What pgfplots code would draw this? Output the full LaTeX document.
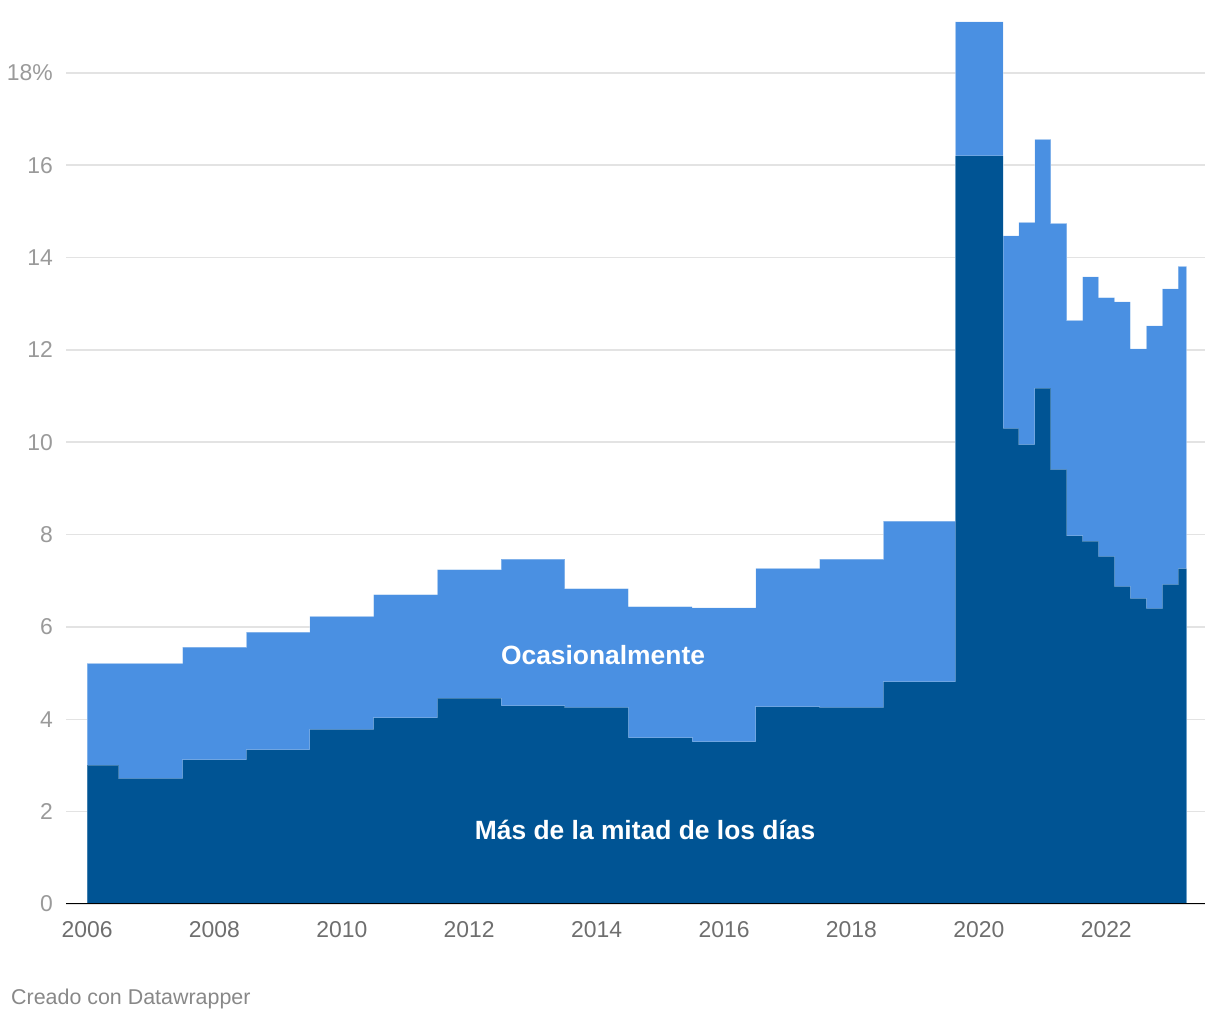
\documentclass[border=0pt]{standalone}
\usepackage{pgfplots}
\pgfplotsset{compat=1.18}
\usepackage{fontspec}
\setmainfont{Liberation Sans}
\definecolor{dark}{HTML}{005494}
\definecolor{light}{HTML}{4A90E2}
\definecolor{gridc}{HTML}{E3E3E3}
\definecolor{ylab}{HTML}{9A9A9A}
\definecolor{xlab}{HTML}{6E6E6E}
\definecolor{foot}{HTML}{888888}

% left edge of each step, share in %: total (both answers) and "más de la mitad de los días"
\pgfplotstableread{
x        total  mitad
2006.00  5.21   3.01
2006.50  5.21   2.72
2007.50  5.56   3.12
2008.50  5.89   3.34
2009.50  6.23   3.78
2010.50  6.70   4.03
2011.50  7.24   4.46
2012.50  7.47   4.29
2013.50  6.83   4.26
2014.50  6.44   3.60
2015.50  6.41   3.51
2016.50  7.27   4.27
2017.50  7.47   4.26
2018.50  8.29   4.81
2019.63  19.10  16.20
2020.38  14.47  10.30
2020.63  14.76  9.95
2020.88  16.56  11.17
2021.13  14.74  9.41
2021.38  12.64  7.97
2021.63  13.58  7.86
2021.88  13.13  7.53
2022.13  13.04  6.88
2022.38  12.02  6.62
2022.63  12.52  6.40
2022.88  13.32  6.92
2023.13  13.81  7.26
2023.26  13.81  7.26
}\datos

\begin{document}
\begin{tikzpicture}[x=1bp,y=1bp]
\useasboundingbox (-66,-116) rectangle (1154,904);
\begin{axis}[
  at={(0,0)}, anchor=south west,
  scale only axis, width=1139bp, height=882bp,
  xmin=2005.67, xmax=2023.55, ymin=0, ymax=19.1,
  axis line style={draw=none},
  tick style={draw=none},
  xtick={2006,2008,...,2022},
  ytick={0,2,...,18},
  yticklabels={0,2,4,6,8,10,12,14,16,18\%},
  x tick label style={/pgf/number format/1000 sep={}},
  xticklabel style={anchor=base, inner sep=0pt, yshift=-34bp, text=xlab,
    font=\fontsize{23}{26}\selectfont},
  yticklabel style={anchor=east, inner sep=0pt, xshift=-13bp, text=ylab,
    font=\fontsize{23}{26}\selectfont},
  /pgf/number format/assume math mode=true,
  ymajorgrids, major grid style={gridc, line width=1.5bp},
  axis on top=false,
]
\addplot[const plot mark left, fill=light, draw=white, draw opacity=0.3, line width=1bp]
  table[x=x, y=total] {\datos} \closedcycle;
\addplot[const plot mark left, fill=dark, draw=white, draw opacity=0.25, line width=1bp]
  table[x=x, y=mitad] {\datos} \closedcycle;
\draw[black, line width=2bp] (axis cs:2005.67,0) -- (axis cs:2023.55,0);
\node[white, font=\bfseries\fontsize{26.5}{30}\selectfont] at (axis cs:2014.10,5.39) {Ocasionalmente};
\node[white, font=\bfseries\fontsize{26.5}{30}\selectfont] at (axis cs:2014.76,1.60) {Más de la mitad de los días};
\end{axis}
\node[anchor=base west, inner sep=0pt, text=foot, font=\fontsize{21.5}{24}\selectfont] at (-55,-100) {Creado con Datawrapper};
\end{tikzpicture}
\end{document}
